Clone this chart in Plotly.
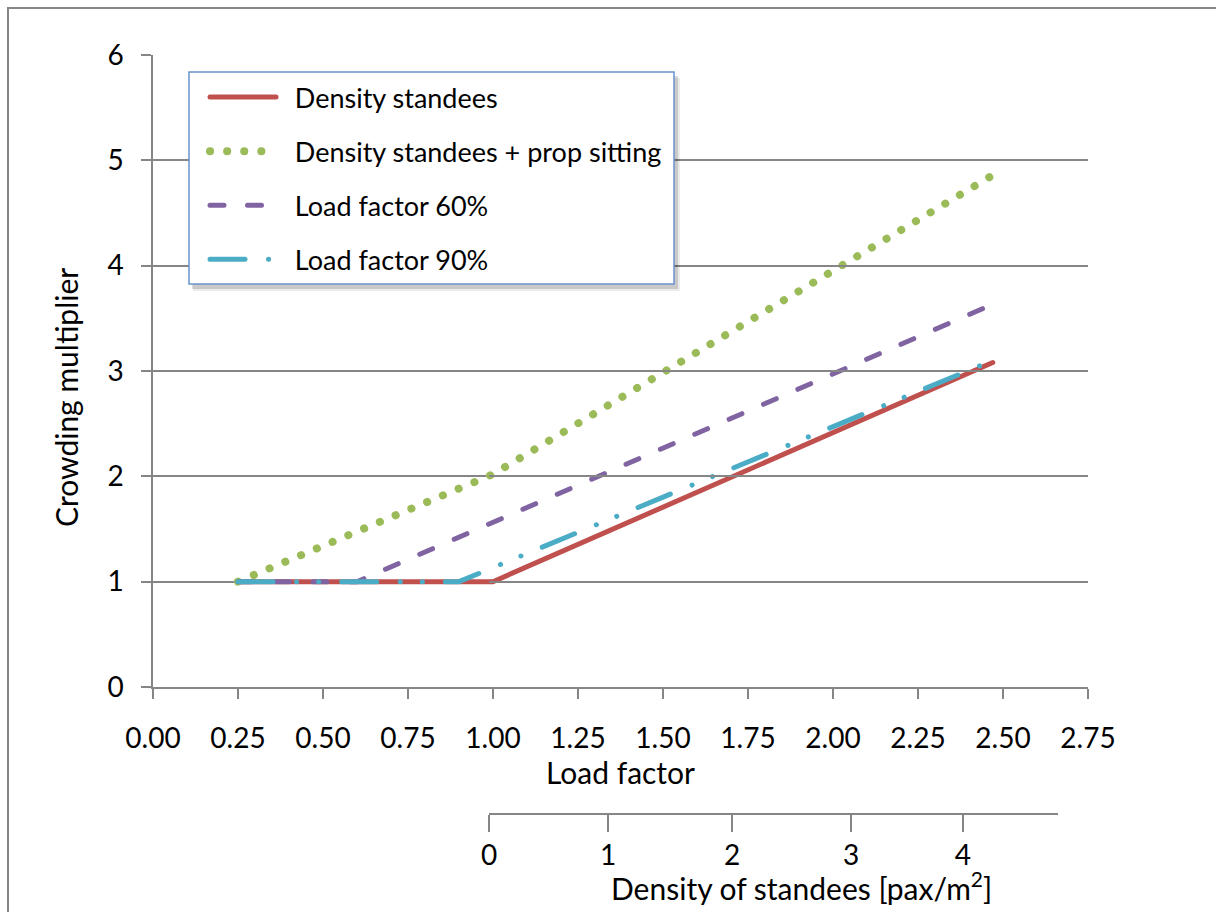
import plotly.graph_objects as go

# ---------------- data ----------------
load_factor_ticks = [0.00, 0.25, 0.50, 0.75, 1.00, 1.25, 1.50, 1.75, 2.00, 2.25, 2.50, 2.75]
y_ticks = [0, 1, 2, 3, 4, 5, 6]

density_standees_x = [0.25, 1.00, 2.47]
density_standees_y = [1.00, 1.00, 3.08]

prop_sitting_x = [0.25, 1.00, 2.46]
prop_sitting_y = [1.00, 2.02, 4.84]

lf60_x = [0.25, 0.60, 2.46]
lf60_y = [1.00, 1.00, 3.62]

lf90_x = [0.25, 0.90, 2.47]
lf90_y = [1.00, 1.00, 3.10]

density_tick_labels = ["0", "1", "2", "3", "4"]
density_tick_lf = [0.988, 1.338, 1.703, 2.053, 2.382]   # positions on load-factor scale

series_names = ["Density standees", "Density standees + prop sitting",
                "Load factor 60%", "Load factor 90%"]

# ---------------- layout helpers ----------------
W, H = 1216, 912
L, R, T, B = 153, 128, 55, 98
PW, PH = W - L - R, H - T - B
AX_BOTTOM = 687


def px_x(p):
    return (p - L) / PW


def px_y(p):
    return (H - B - p) / PH


GRAY = "#868686"
FONT = "Lato, 'Open Sans', sans-serif"
FS_TICK = 28
FS_LEG = 27
FS_TITLE = 30

fig = go.Figure()

styles = [
    dict(color="#C0504D", width=5, dash="solid"),
    dict(color="#9BBB59", width=8, dash="0.1px,17px"),
    dict(color="#8064A2", width=5, dash="14px,23.5px"),
    dict(color="#4BACC6", width=5, dash="35px,23.5px,0.1px,22px,0.1px,23px"),
]
xs = [density_standees_x, prop_sitting_x, lf60_x, lf90_x]
ys = [density_standees_y, prop_sitting_y, lf60_y, lf90_y]

for i, (name, x, y, st) in enumerate(zip(series_names, xs, ys, styles)):
    fig.add_trace(go.Scatter(x=x, y=y, mode="lines", name="\u00a0\u00a0" + name, line=st,
                             legendgroup=f"g{i}", hoverinfo="skip"))

# dummy trace so the secondary x axis is drawn
fig.add_trace(go.Scatter(x=[None], y=[None], xaxis="x2", yaxis="y",
                         showlegend=False, hoverinfo="skip"))

fig.update_layout(
    width=W, height=H,
    margin=dict(l=L, r=R, t=T, b=B),
    paper_bgcolor="white", plot_bgcolor="rgba(0,0,0,0)",
    font=dict(family=FONT, size=FS_TICK, color="black"),
    showlegend=True,
    legend=dict(
        x=px_x(205), y=px_y(73), xanchor="left", yanchor="top",
        bgcolor="rgba(0,0,0,0)", borderwidth=0,
        font=dict(family=FONT, size=FS_LEG, color="black"),
        traceorder="grouped", tracegroupgap=16, itemwidth=66,
    ),
    xaxis=dict(
        range=[0, 2.75], tickvals=load_factor_ticks,
        ticktext=[f"{v:.2f}" for v in load_factor_ticks],
        showgrid=False, zeroline=False, showline=True, linecolor=GRAY, linewidth=1.5,
        ticks="outside", ticklen=10, tickcolor=GRAY, tickwidth=1.5,
        anchor="y", tickfont=dict(size=FS_TICK), ticklabelstandoff=16,
    ),
    yaxis=dict(
        domain=[px_y(AX_BOTTOM), 1], range=[0, 6], tickvals=y_ticks,
        showgrid=True, gridcolor=GRAY, gridwidth=1.5, zeroline=False,
        showline=True, linecolor=GRAY, linewidth=1.5,
        ticks="outside", ticklen=10, tickcolor=GRAY, tickwidth=1.5,
        tickfont=dict(size=FS_TICK), ticklabelstandoff=12,
    ),
    xaxis2=dict(
        domain=[px_x(489), px_x(1058)],
        range=[density_tick_lf[0], density_tick_lf[0] + (1058 - 489) / 340.0],
        tickvals=density_tick_lf, ticktext=density_tick_labels,
        anchor="free", position=0, showgrid=False, zeroline=False,
        showline=True, linecolor=GRAY, linewidth=1.5,
        ticks="outside", ticklen=17, tickcolor=GRAY, tickwidth=1.5,
        tickfont=dict(size=FS_TICK),
    ),
    shapes=[
        # outer chart border
        dict(type="rect", xref="paper", yref="paper",
             x0=px_x(8), x1=px_x(1240), y0=px_y(940), y1=px_y(8),
             line=dict(color=GRAY, width=2), fillcolor="rgba(0,0,0,0)", layer="above"),
        # legend soft shadow
        dict(type="rect", xref="paper", yref="paper",
             x0=px_x(193), x1=px_x(680), y0=px_y(291), y1=px_y(78),
             line=dict(width=0), fillcolor="rgba(0,0,0,0.08)", layer="above"),
        dict(type="rect", xref="paper", yref="paper",
             x0=px_x(192), x1=px_x(678), y0=px_y(289), y1=px_y(76),
             line=dict(width=0), fillcolor="rgba(0,0,0,0.14)", layer="above"),
        # legend box
        dict(type="rect", xref="paper", yref="paper",
             x0=px_x(189), x1=px_x(674), y0=px_y(284), y1=px_y(72),
             line=dict(color="#6A93CF", width=1.5), fillcolor="white", layer="above"),
    ],
    annotations=[
        dict(text="Load factor", xref="paper", yref="paper",
             x=px_x(620), y=px_y(772), showarrow=False, font=dict(size=FS_TITLE),
             xanchor="center", yanchor="middle"),
        dict(text="Crowding multiplier", xref="paper", yref="paper",
             x=px_x(66), y=px_y(398), showarrow=False, font=dict(size=FS_TITLE),
             textangle=-90, xanchor="center", yanchor="middle"),
        dict(text="Density of standees [pax/m<sup>2</sup>]", xref="paper", yref="paper",
             x=px_x(801), y=px_y(886), showarrow=False, font=dict(size=FS_TITLE),
             xanchor="center", yanchor="middle"),
    ],
)

post = """
document.body.style.margin='0';
function roundCaps(){
  document.querySelectorAll('path.js-line').forEach(function(p){
    p.style.strokeLinecap='round'; p.style.strokeLinejoin='round';
  });
}
roundCaps();
setTimeout(roundCaps, 100);
setTimeout(roundCaps, 600);
var gd = document.getElementsByClassName('plotly-graph-div')[0];
if (gd && gd.on) { gd.on('plotly_afterplot', roundCaps); }
"""

fig.write_html("out.html", post_script=post, config={"displayModeBar": False})
